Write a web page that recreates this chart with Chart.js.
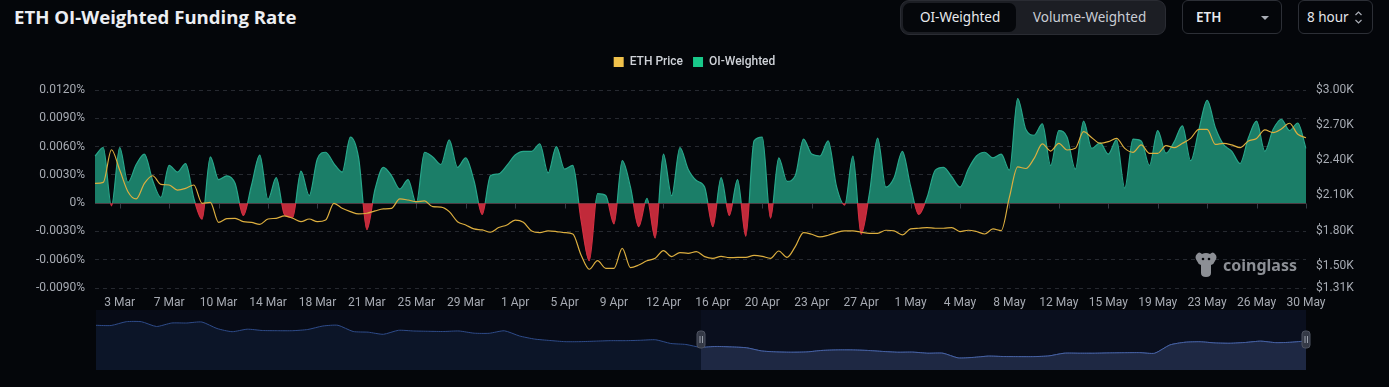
<!DOCTYPE html>
<html>
<head>
<meta charset="utf-8">
<title>ETH OI-Weighted Funding Rate</title>
<script src="https://cdn.jsdelivr.net/npm/chart.js@4.4.1/dist/chart.umd.min.js"></script>
<style>
  html, body { margin: 0; padding: 0; background: #04060a; }
  body { width: 1389px; height: 387px; position: relative; overflow: hidden; font-family: "Noto Sans", Roboto, sans-serif; color: #e6e8ec; }
  .title { position: absolute; left: 14px; top: 3px; font: 700 18.6px "Open Sans", sans-serif; line-height: 28px; color: #eceef2; }
  .seg { position: absolute; left: 900px; top: 0; width: 266px; height: 35px; box-sizing: border-box; background: #1c1e24; border: 1px solid #2a2c33; border-radius: 9px; }
  .seg .on { position: absolute; left: 2px; top: 2px; width: 113px; height: 29px; background: #05070b; border-radius: 7px; }
  .seg span { position: absolute; top: 0; line-height: 33px; font-size: 13.5px; }
  .box { position: absolute; top: 0; height: 34px; box-sizing: border-box; border: 1px solid #2c2f36; border-radius: 6px; font-size: 13.5px; line-height: 32px; }
  .caret { position: absolute; left: 78px; top: 15px; width: 0; height: 0; border-left: 4px solid transparent; border-right: 4px solid transparent; border-top: 4px solid #a9adb5; }
  #main { position: absolute; left: 0; top: 40px; }
  #nav { position: absolute; left: 90px; top: 308px; }
  .mark { position: absolute; left: 1194px; top: 251px; display: flex; align-items: center; color: #8c8f95; font: 700 16px "Noto Sans", sans-serif; }
</style>
</head>
<body>
<div class="title">ETH OI-Weighted Funding Rate</div>
<div class="seg">
  <div class="on"></div>
  <span style="left:19px;color:#e8eaee">OI-Weighted</span>
  <span style="left:132px;color:#c9cdd4">Volume-Weighted</span>
</div>
<div class="box" style="left:1182px;width:100px;">
  <span style="position:absolute;left:13px;font-weight:600;color:#e8eaee">ETH</span>
  <div class="caret"></div>
</div>
<div class="box" style="left:1298px;width:75px;">
  <span style="position:absolute;left:8px;color:#e3e5e9">8 hour</span>
  <svg style="position:absolute;left:55px;top:9px" width="9" height="15" viewBox="0 0 9 15">
    <path d="M1.5 5 L4.5 2 L7.5 5 M1.5 10 L4.5 13 L7.5 10" fill="none" stroke="#a9adb5" stroke-width="1.2"/>
  </svg>
</div>
<canvas id="main" width="1389" height="270"></canvas>
<canvas id="nav" width="1225" height="64"></canvas>
<div class="mark">
  <svg width="24" height="27" viewBox="0 0 24 27">
    <path d="M3 3 Q5 0 8 3 Q12 1 16 3 Q19 0 21 3 Q24 6 21 10 Q20 13 17 14 L17 22 Q17 26 12 26 Q7 26 7 22 L7 14 Q4 13 3 10 Q0 6 3 3 Z" fill="#8c8f95"/>
    <circle cx="9" cy="8" r="1.3" fill="#04060a"/>
    <circle cx="15" cy="8" r="1.3" fill="#04060a"/>
  </svg>
  <span style="margin-left:5px">coinglass</span>
</div>
<script>
// 8h funding, sampled every ~0.6 day, 1 Mar .. 30 May (in %)
const fundingRate = [
  0.0050, 0.0059, -0.0003, 0.0059, 0.0022, 0.0041, 0.0052, 0.0024, 0.0006, 0.0040,
  0.0033, 0.0042, 0.0005, -0.0017, 0.0049, 0.0025, 0.0029, 0.0021, -0.0013, 0.0019,
  0.0051, 0.0004, 0.0027, -0.0012, -0.0015, 0.0034, 0.0008, 0.0047, 0.0054, 0.0042,
  0.0033, 0.0070, 0.0048, -0.0028, 0.0015, 0.0038, 0.0029, 0.0015, 0.0025, 0.0000,
  0.0054, 0.0049, 0.0041, 0.0067, 0.0038, 0.0048, 0.0024, -0.0012, 0.0029, 0.0031,
  0.0040, 0.0051, 0.0055, 0.0055, 0.0063, 0.0032, 0.0060, 0.0036, 0.0040, -0.0018,
  -0.0061, 0.0010, 0.0008, -0.0022, 0.0045, 0.0017, -0.0025, 0.0005, -0.0037, 0.0052,
  0.0008, 0.0059, 0.0036, 0.0024, 0.0017, -0.0025, 0.0027, -0.0013, 0.0025, -0.0035,
  0.0066, 0.0070, -0.0016, 0.0048, 0.0023, 0.0029, 0.0068, 0.0052, 0.0050, 0.0066,
  0.0018, -0.0002, 0.0050, -0.0033, 0.0010, 0.0069, 0.0017, 0.0027, 0.0055, 0.0018,
  -0.0012, 0.0006, 0.0035, 0.0038, 0.0028, 0.0017, 0.0036, 0.0050, 0.0054, 0.0048,
  0.0052, 0.0035, 0.0111, 0.0078, 0.0072, 0.0084, 0.0040, 0.0077, 0.0070, 0.0036,
  0.0087, 0.0058, 0.0064, 0.0052, 0.0067, 0.0016, 0.0068, 0.0066, 0.0040, 0.0077,
  0.0053, 0.0065, 0.0082, 0.0045, 0.0078, 0.0109, 0.0080, 0.0062, 0.0055, 0.0042,
  0.0069, 0.0087, 0.0055, 0.0078, 0.0089, 0.0077, 0.0085, 0.0058
];

const ethPrice = [
  2203, 2212, 2490, 2317, 2132, 2070, 2203, 2268, 2195, 2189,
  2146, 2160, 2189, 2033, 2041, 1870, 1902, 1905, 1876, 1870,
  1853, 1899, 1905, 1925, 1905, 1876, 1899, 1876, 1890, 2033,
  1990, 1962, 1942, 1948, 1968, 1985, 1990, 2070, 2061, 2047,
  2053, 2004, 2001, 1962, 1876, 1848, 1814, 1806, 1786, 1826,
  1848, 1890, 1871, 1797, 1783, 1797, 1792, 1783, 1771, 1592,
  1470, 1543, 1478, 1478, 1649, 1484, 1506, 1543, 1563, 1629,
  1578, 1612, 1606, 1620, 1578, 1563, 1580, 1569, 1571, 1571,
  1588, 1580, 1563, 1626, 1571, 1663, 1783, 1769, 1746, 1760,
  1783, 1797, 1797, 1786, 1777, 1777, 1803, 1797, 1763, 1814,
  1820, 1826, 1820, 1820, 1826, 1792, 1803, 1792, 1771, 1814,
  1800, 2085, 2343, 2330, 2417, 2540, 2479, 2545, 2488, 2502,
  2644, 2593, 2545, 2559, 2587, 2502, 2468, 2531, 2459, 2459,
  2525, 2508, 2545, 2587, 2664, 2664, 2536, 2545, 2531, 2508,
  2565, 2587, 2659, 2636, 2667, 2716, 2622, 2593
];

const xTickLabels = [
  '3 Mar', '7 Mar', '10 Mar', '14 Mar', '18 Mar', '21 Mar', '25 Mar', '29 Mar', '1 Apr',
  '5 Apr', '9 Apr', '12 Apr', '16 Apr', '20 Apr', '23 Apr', '27 Apr', '1 May', '4 May',
  '8 May', '12 May', '15 May', '19 May', '23 May', '26 May', '30 May'
];
const firstTickIndex = 3;
const pointsPerTick = 6;

const fundingTicks = [-0.009, -0.006, -0.003, 0, 0.003, 0.006, 0.009, 0.012];
const priceTicks = [1310, 1500, 1800, 2100, 2400, 2700, 3000];

// navigator: ETH price over the longer history, selected window starts at index 40
const navPrice = [
  3652, 3639, 3893, 3893, 3572, 3806, 3806, 3873, 3437, 3223,
  3391, 3303, 3290, 3290, 3370, 3605, 3652, 3236, 3190, 3049,
  3317, 3270, 3250, 3236, 3270, 3123, 3116, 3283, 2935, 2727,
  2633, 2553, 2553, 2587, 2620, 2620, 2647, 2680, 2432, 2365,
  2165, 2231, 2198, 2144, 1930, 1863, 1843, 1863, 1964, 1997,
  1997, 1964, 1897, 1843, 1850, 1776, 1776, 1461, 1495, 1582,
  1555, 1548, 1548, 1595, 1776, 1776, 1776, 1796, 1809, 1816,
  1776, 2332, 2513, 2546, 2466, 2446, 2500, 2587, 2486, 2513, 2600
];
const navSelectStart = 40;

const GREEN = '#1b7e68';
const GREEN_LINE = '#27a68a';
const RED = '#c12a3a';
const RED_LINE = '#d02e40';
const GOLD = '#dcae3f';
const AXIS_TEXT = '#a7abb3';

Chart.defaults.font.family = 'Roboto, sans-serif';
Chart.defaults.font.size = 12;

function pct(v) {
  const r = Math.round(v * 10000) / 10000;
  return r === 0 ? '0%' : r.toFixed(4) + '%';
}

// green stroke above zero, red below, split exactly at the zero level
function signedStroke(context) {
  const { chart } = context;
  const area = chart.chartArea;
  if (!area) return GREEN_LINE;
  const y0 = chart.scales.y.getPixelForValue(0);
  const f = Math.min(1, Math.max(0, (y0 - area.top) / (area.bottom - area.top)));
  const g = chart.ctx.createLinearGradient(0, area.top, 0, area.bottom);
  g.addColorStop(0, GREEN_LINE);
  g.addColorStop(f, GREEN_LINE);
  g.addColorStop(f, RED_LINE);
  g.addColorStop(1, RED_LINE);
  return g;
}

// room between the legend and the plot
const legendGap = {
  id: 'legendGap',
  beforeLayout(chart) {
    const legend = chart.legend;
    if (legend && !legend._gapPatched) {
      const fit = legend.fit;
      legend.fit = function () { fit.call(this); this.height += 12; };
      legend._gapPatched = true;
    }
  }
};

// x axis line sits on the zero level, with small ticks under it
const zeroAxis = {
  id: 'zeroAxis',
  beforeDatasetsDraw(chart) {
    const { ctx, chartArea, scales } = chart;
    const y0 = Math.round(scales.y.getPixelForValue(0)) + 0.5;
    ctx.save();
    ctx.strokeStyle = '#363a43';
    ctx.lineWidth = 1;
    ctx.beginPath();
    ctx.moveTo(chartArea.left, y0);
    ctx.lineTo(chartArea.right, y0);
    scales.x.ticks.forEach((t) => {
      if (!t.label) return;
      const px = Math.round(scales.x.getPixelForValue(t.value)) + 0.5;
      ctx.moveTo(px, y0);
      ctx.lineTo(px, y0 + 5);
    });
    ctx.stroke();
    ctx.restore();
  }
};

new Chart(document.getElementById('main'), {
  type: 'line',
  data: {
    labels: fundingRate.map((_, i) => i),
    datasets: [
      {
        label: 'ETH Price',
        data: ethPrice,
        yAxisID: 'y1',
        borderColor: GOLD,
        borderWidth: 1.2,
        pointRadius: 0,
        cubicInterpolationMode: 'monotone',
        fill: false,
      },
      {
        label: 'OI-Weighted',
        data: fundingRate,
        yAxisID: 'y',
        borderColor: signedStroke,
        borderWidth: 1.2,
        pointRadius: 0,
        cubicInterpolationMode: 'monotone',
        fill: { target: 'origin', above: GREEN, below: RED },
      },
    ],
  },
  options: {
    responsive: false,
    animation: false,
    events: [],
    layout: { padding: { top: 6, left: 0, right: 0, bottom: 0 } },
    plugins: {
      tooltip: { enabled: false },
      legend: {
        position: 'top',
        labels: {
          boxWidth: 10,
          boxHeight: 10,
          padding: 10,
          color: '#cfd2d8',
          font: { size: 12, weight: '500' },
          generateLabels: () => [
            { text: 'ETH Price', fillStyle: '#f0c14b', strokeStyle: '#f0c14b', lineWidth: 0, datasetIndex: 0, fontColor: '#cfd2d8' },
            { text: 'OI-Weighted', fillStyle: '#19c88a', strokeStyle: '#19c88a', lineWidth: 0, datasetIndex: 1, fontColor: '#cfd2d8' },
          ],
        },
      },
    },
    scales: {
      x: {
        type: 'category',
        grid: { display: false, drawTicks: false },
        border: { display: false },
        ticks: {
          autoSkip: false,
          maxRotation: 0,
          padding: 8,
          color: AXIS_TEXT,
          callback: (value, index) => {
            const k = index - firstTickIndex;
            return k >= 0 && k % pointsPerTick === 0 ? xTickLabels[k / pointsPerTick] : null;
          },
        },
        afterFit: (s) => { s.height = 22; },
      },
      y: {
        position: 'left',
        min: -0.009,
        max: 0.012,
        afterBuildTicks: (s) => { s.ticks = fundingTicks.map((v) => ({ value: v })); },
        ticks: { padding: 10, color: AXIS_TEXT, callback: pct },
        grid: { color: '#262930', drawTicks: false },
        border: { display: false, dash: [4, 4] },
        afterFit: (s) => { s.width = 95; },
      },
      y1: {
        position: 'right',
        min: 1310,
        max: 3000,
        afterBuildTicks: (s) => { s.ticks = priceTicks.map((v) => ({ value: v })); },
        ticks: { padding: 10, color: AXIS_TEXT, callback: (v) => '$' + (v / 1000).toFixed(2) + 'K' },
        grid: { display: false, drawTicks: false },
        border: { display: false },
        afterFit: (s) => { s.width = 83; },
      },
    },
  },
  plugins: [legendGap, zeroAxis],
});

// navigator backdrop and handles
const navDecor = {
  id: 'navDecor',
  beforeDatasetsDraw(chart) {
    const { ctx, chartArea: a, scales } = chart;
    const xs = scales.x.getPixelForValue(navSelectStart);
    ctx.save();
    ctx.fillStyle = '#070b16';
    ctx.fillRect(a.left, a.top, xs - a.left, a.bottom - a.top);
    ctx.fillStyle = '#0a0f1e';
    ctx.fillRect(xs, a.top, a.right - xs, a.bottom - a.top);
    ctx.restore();
  },
  afterDatasetsDraw(chart) {
    const { ctx, chartArea: a, scales } = chart;
    const mid = (a.top + a.bottom) / 2 - 1;
    [scales.x.getPixelForValue(navSelectStart), a.right].forEach((x) => {
      ctx.save();
      ctx.fillStyle = '#343946';
      ctx.strokeStyle = '#4d5260';
      ctx.beginPath();
      ctx.roundRect(x - 4, mid - 8, 8, 17, 3);
      ctx.fill();
      ctx.stroke();
      ctx.strokeStyle = '#9aa0ab';
      ctx.beginPath();
      ctx.moveTo(x - 1, mid - 3); ctx.lineTo(x - 1, mid + 4);
      ctx.moveTo(x + 1.5, mid - 3); ctx.lineTo(x + 1.5, mid + 4);
      ctx.stroke();
      ctx.restore();
    });
  }
};

new Chart(document.getElementById('nav'), {
  type: 'line',
  data: {
    labels: navPrice.map((_, k) => k),
    datasets: [
      {
        data: navPrice.map((v, k) => (k >= navSelectStart ? v : null)),
        borderColor: '#4862a3',
        borderWidth: 1,
        pointRadius: 0,
        tension: 0.2,
        fill: 'start',
        backgroundColor: '#1e2843',
      },
      {
        data: navPrice,
        borderColor: '#2f4c8a',
        borderWidth: 1,
        pointRadius: 0,
        tension: 0.2,
        fill: 'start',
        backgroundColor: '#0c1528',
      },
    ],
  },
  options: {
    responsive: false,
    animation: false,
    events: [],
    layout: { padding: { top: 2, bottom: 2, left: 6, right: 9 } },
    plugins: { legend: { display: false }, tooltip: { enabled: false } },
    scales: {
      x: { display: false },
      y: { display: false, min: 650, max: 4680 },
    },
  },
  plugins: [navDecor],
});
</script>
</body>
</html>
